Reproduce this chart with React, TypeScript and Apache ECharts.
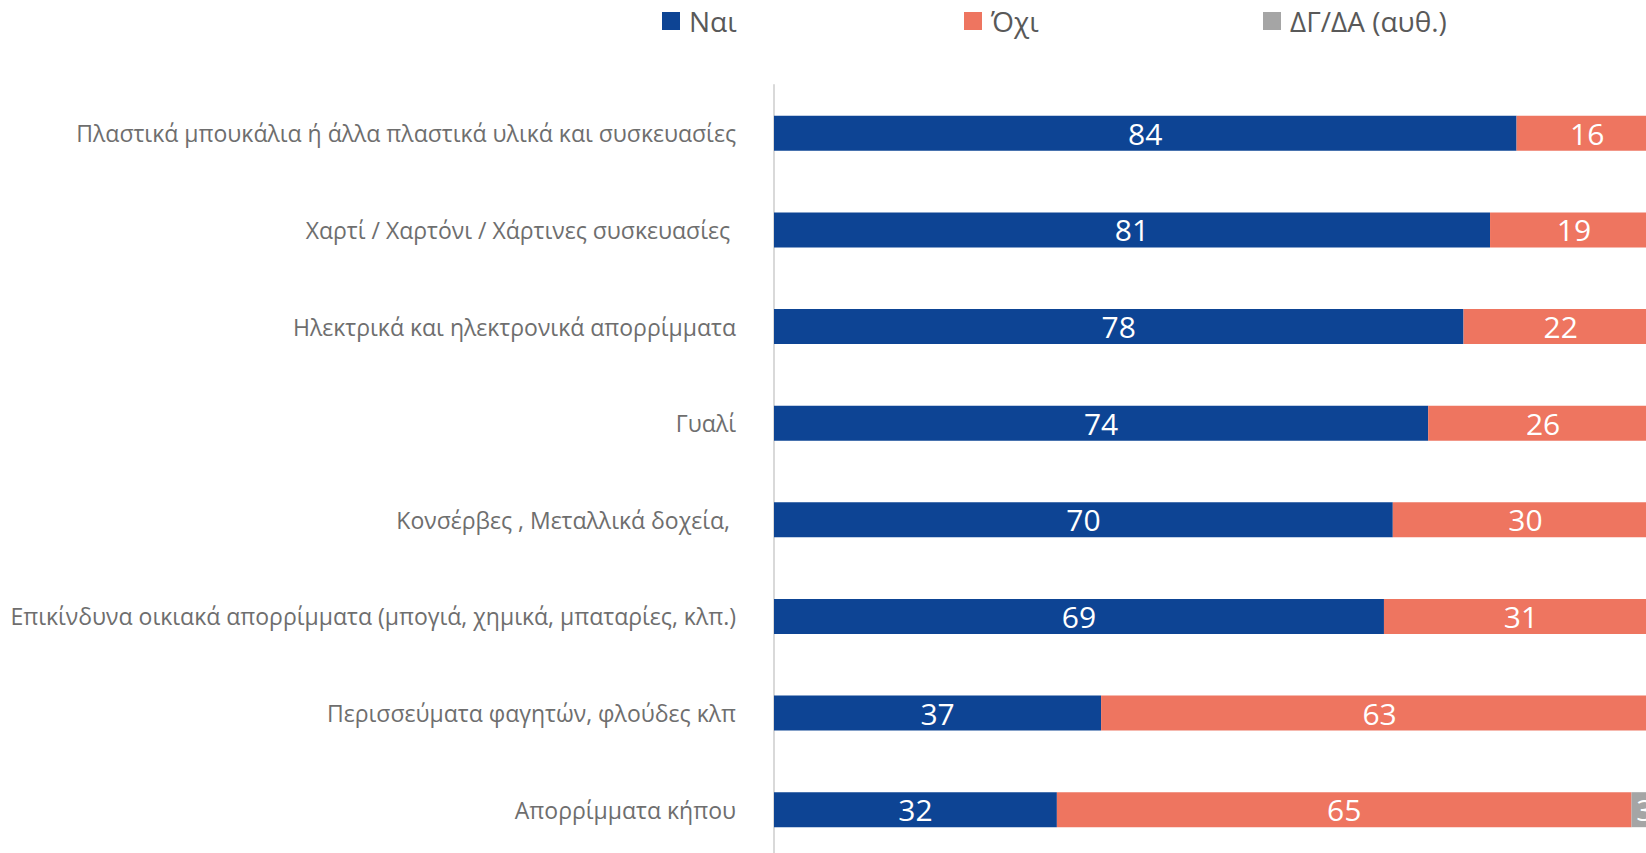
import React, { useEffect, useRef } from "react";
import * as echarts from "echarts";

const categories = [
  "Πλαστικά μπουκάλια ή άλλα πλαστικά υλικά και συσκευασίες",
  "Χαρτί / Χαρτόνι / Χάρτινες συσκευασίες ",
  "Ηλεκτρικά και ηλεκτρονικά απορρίμματα",
  "Γυαλί",
  "Κονσέρβες , Μεταλλικά δοχεία, ",
  "Επικίνδυνα οικιακά απορρίμματα (μπογιά, χημικά, μπαταρίες, κλπ.)",
  "Περισσεύματα φαγητών, φλούδες κλπ",
  "Απορρίμματα κήπου",
];
const yesValues = [84, 81, 78, 74, 70, 69, 37, 32];
const noValues = [16, 19, 22, 26, 30, 31, 63, 65];
const dkValues = [0, 0, 0, 0, 0, 0, 0, 3];
const seriesNames = ["Ναι", "Όχι", "ΔΓ/ΔΑ (αυθ.)"];
const colors = ["#0D4494", "#EE7560", "#A5A5A5"];

export default function App() {
  const ref = useRef<HTMLDivElement>(null);
  useEffect(() => {
    if (!ref.current) return;
    const chart = echarts.init(ref.current, null, { renderer: "svg" });
    const values = [yesValues, noValues, dkValues];
    const legendLeft = [662, 964, 1263];
    chart.setOption({
      animation: false,
      legend: seriesNames.map((n, i) => ({
        data: [n],
        left: legendLeft[i],
        top: 7,
        padding: 0,
        itemWidth: 18,
        itemHeight: 18,
        icon: "rect",
        textStyle: {
          fontFamily: "Open Sans",
          fontSize: 28,
          lineHeight: 28,
          color: "#595959",
          padding: [0, 0, 0, 4],
        },
      })),
      grid: { left: 774, right: 0, top: 85, bottom: 0, containLabel: false },
      xAxis: {
        type: "value",
        min: 0,
        max: 100,
        show: false,
      },
      yAxis: {
        type: "category",
        data: categories,
        inverse: true,
        axisLine: { show: true, lineStyle: { color: "#D9D9D9", width: 2 } },
        axisTick: { show: false },
        axisLabel: {
          fontFamily: "Open Sans",
          fontSize: 23,
          color: "#6E6E6E",
          margin: 38,
        },
        splitLine: { show: false },
      },
      series: seriesNames.map((n, i) => ({
        name: n,
        type: "bar",
        stack: "total",
        barWidth: 35,
        data: values[i],
        itemStyle: { color: colors[i] },
        label: {
          show: true,
          position: "inside",
          color: "#FFFFFF",
          fontFamily: "Open Sans",
          fontSize: 30,
          formatter: (p: any) => (p.value > 0 ? String(p.value) : ""),
        },
      })),
    });
    return () => chart.dispose();
  }, []);
  return (
    <div
      style={{
        position: "fixed",
        left: 0,
        top: 0,
        width: 1646,
        height: 853,
        overflow: "hidden",
        background: "#fff",
      }}
    >
      <div ref={ref} style={{ width: 1658, height: 858 }} />
    </div>
  );
}
